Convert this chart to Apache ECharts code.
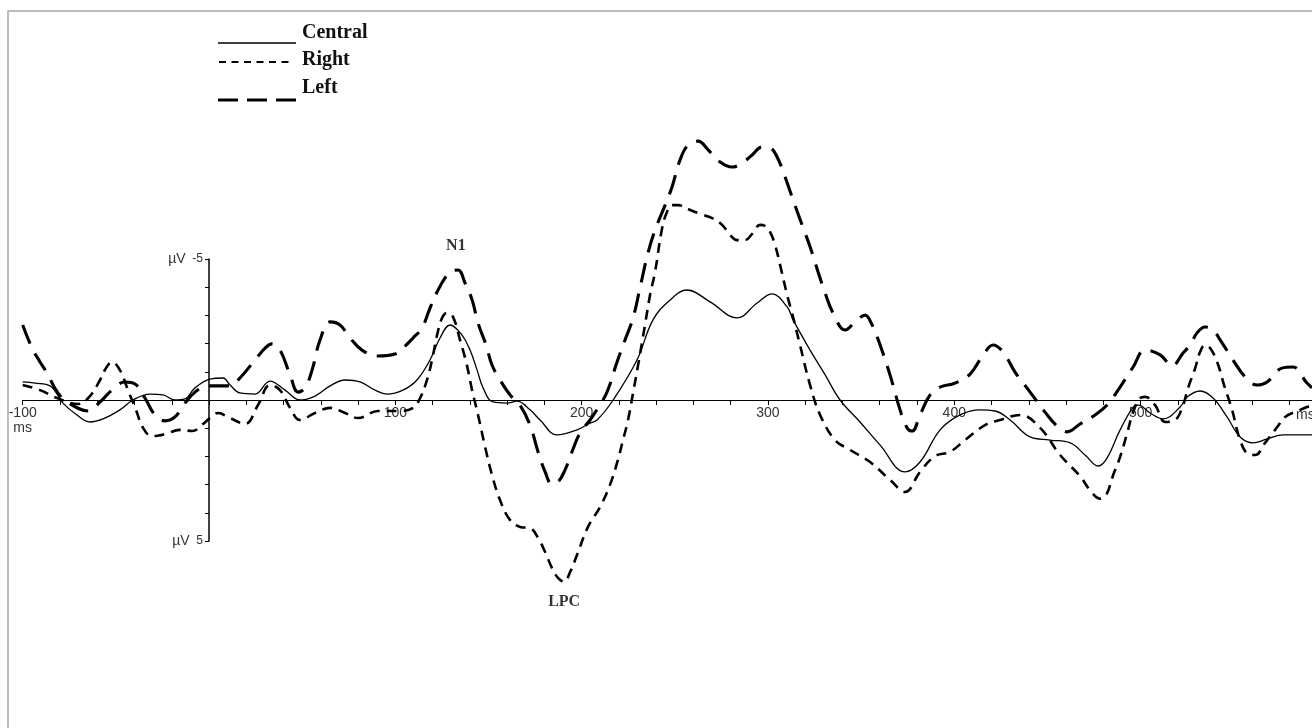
<!DOCTYPE html>
<html>
<head>
<meta charset="utf-8">
<title>ERP waveforms</title>
<script src="https://cdn.jsdelivr.net/npm/echarts@6/dist/echarts.min.js"></script>
<style>
  html, body { margin: 0; padding: 0; background: #ffffff; }
  #chart { width: 1312px; height: 728px; }
</style>
</head>
<body>
<div id="chart"></div>
<script>
// Grand-average ERP waveforms (time in ms, amplitude in µV, negative plotted up)
const seriesNames = ['Central', 'Right', 'Left'];

const central = [
  [-100, -0.64], [-93.4, -0.60], [-85.3, -0.50], [-78.4, 0.11], [-70.9, 0.53], [-63.9, 0.78],
  [-56.9, 0.67], [-47.8, 0.35], [-40.8, 0.0], [-31.7, -0.21], [-24.7, -0.18], [-18.3, 0.0],
  [-12.9, -0.04], [-7.5, -0.43], [0.5, -0.74], [7.5, -0.78], [11.3, -0.53], [16.6, -0.25],
  [24.7, -0.21], [32.7, -0.67], [40.8, -0.35], [48.8, 0.0], [56.9, -0.14], [65.0, -0.50],
  [73.0, -0.71], [81.1, -0.64], [89.1, -0.35], [95.5, -0.21], [104.1, -0.35], [111.6, -0.71],
  [118.6, -1.42], [124.0, -2.20], [129.4, -2.66], [135.8, -2.30], [140.1, -1.77], [143.9, -1.06],
  [147.1, -0.43], [152.4, 0.07], [160.0, 0.11], [165.3, 0.04], [172.3, 0.35], [177.7, 0.71],
  [186.8, 1.24], [197.5, 1.06], [204.5, 0.82], [208.3, 0.71], [216.9, 0.0], [229.7, -1.42],
  [238.3, -2.84], [247.5, -3.55], [256.6, -3.90], [268.9, -3.48], [283.4, -2.91], [294.2, -3.44],
  [302.2, -3.76], [310.3, -3.30], [313.5, -2.84], [322.6, -1.77], [330.7, -0.89], [338.7, 0.0],
  [349.4, 0.78], [360.2, 1.60], [373.6, 2.55], [381.6, 2.20], [392.4, 1.06], [403.1, 0.53],
  [413.8, 0.35], [421.9, 0.39], [430.0, 0.71], [440.7, 1.31], [451.4, 1.42], [462.2, 1.52],
  [470.2, 1.95], [477.2, 2.34], [482.0, 2.06], [489.0, 1.06], [496.0, 0.25], [498.7, 0.18],
  [505.1, 0.46], [512.1, 0.67], [521.2, 0.25], [525.0, -0.11], [532.0, -0.32], [538.9, -0.07],
  [546.4, 0.60], [553.4, 1.31], [560.4, 1.52], [567.9, 1.38], [576.5, 1.24], [592, 1.24]
];

const right = [
  [-100, -0.53], [-90.7, -0.35], [-81.6, -0.07], [-70.3, 0.14], [-63.9, -0.14], [-58.5, -0.71],
  [-55.3, -1.13], [-52.1, -1.35], [-47.8, -1.06], [-43.5, -0.35], [-39.2, 0.35], [-35.4, 0.99],
  [-30.6, 1.28], [-23.6, 1.21], [-15.6, 1.06], [-9.1, 1.10], [-3.2, 0.85], [0.5, 0.64],
  [4.8, 0.46], [11.3, 0.64], [19.3, 0.85], [26.3, 0.18], [32.7, -0.53], [38.1, -0.35],
  [43.5, 0.28], [48.8, 0.71], [56.9, 0.46], [65.0, 0.28], [73.0, 0.46], [80.0, 0.64],
  [90.7, 0.39], [102.5, 0.39], [109.5, 0.28], [113.3, -0.07], [117.0, -0.71], [119.7, -1.42],
  [122.4, -2.30], [125.1, -2.91], [127.8, -3.09], [131.0, -2.94], [134.7, -2.13], [138.0, -1.35],
  [141.2, -0.35], [144.4, 0.53], [148.2, 1.67], [151.9, 2.66], [156.2, 3.55], [161.6, 4.26],
  [167.0, 4.50], [172.3, 4.54], [176.6, 4.89], [180.4, 5.39], [184.1, 5.96], [187.3, 6.31],
  [190.6, 6.45], [193.8, 6.10], [197.5, 5.50], [203.4, 4.50], [209.9, 3.79], [215.2, 3.01],
  [219.0, 2.23], [222.2, 1.42], [224.9, 0.71], [227.6, -0.25], [230.3, -1.24], [234.0, -2.66],
  [236.7, -3.72], [239.4, -4.54], [243.2, -6.10], [245.8, -6.67], [248.5, -6.91], [251.7, -6.91],
  [258.2, -6.74], [263.6, -6.60], [270.0, -6.45], [275.4, -6.21], [279.7, -5.85], [283.4, -5.67],
  [287.7, -5.67], [291.5, -5.89], [295.8, -6.21], [298.4, -6.17], [301.1, -5.96], [303.8, -5.50],
  [306.5, -4.79], [310.3, -3.72], [312.9, -3.09], [317.2, -1.95], [322.6, -0.53], [328.0, 0.53],
  [336.0, 1.42], [344.1, 1.77], [354.8, 2.20], [365.6, 2.84], [373.6, 3.26], [381.6, 2.55],
  [389.7, 1.99], [397.7, 1.84], [405.8, 1.42], [416.5, 0.89], [424.6, 0.71], [435.3, 0.53],
  [446.1, 0.99], [456.8, 1.95], [467.5, 2.70], [472.9, 3.20], [478.3, 3.50], [481.5, 3.37],
  [485.3, 2.66], [489.0, 2.02], [492.8, 1.17], [496.0, 0.43], [499.8, -0.07], [502.4, -0.11],
  [507.8, 0.18], [513.2, 0.78], [518.5, 0.71],
  [522.3, 0.28], [525.5, -0.43], [529.3, -1.13], [531.9, -1.70], [534.6, -1.95], [537.3, -1.84],
  [541.1, -1.35], [544.8, -0.53], [549.1, 0.35], [553.4, 1.42], [557.7, 1.91], [561.5, 1.95],
  [566.8, 1.52], [573.3, 0.96], [577.6, 0.60], [585.6, 0.35], [592, 0.18]
];

const left = [
  [-100, -2.66], [-95.0, -1.84], [-90.7, -1.35], [-87.0, -0.96], [-81.1, -0.25], [-74.6, 0.14],
  [-64.9, 0.39], [-58.5, 0.07], [-52.1, -0.35], [-45.1, -0.64], [-39.7, -0.57], [-34.4, -0.07],
  [-29.0, 0.53], [-23.6, 0.74], [-18.3, 0.60], [-12.9, 0.11], [-7.5, -0.28], [-1.1, -0.50],
  [5.9, -0.50], [11.3, -0.50], [16.6, -0.78], [24.7, -1.42], [30.1, -1.84], [33.8, -1.99],
  [38.1, -1.77], [43.5, -0.89], [47.8, -0.28], [51.5, -0.43], [55.3, -1.06], [59.6, -2.13],
  [65.0, -2.77], [70.3, -2.66], [75.7, -2.20], [82.1, -1.77], [90.7, -1.56], [99.8, -1.63],
  [105.2, -1.91], [109.5, -2.20], [114.3, -2.55], [118.6, -3.26], [122.4, -3.83], [126.7, -4.33],
  [130.4, -4.57], [133.7, -4.61], [137.4, -4.15], [141.2, -3.55], [144.4, -2.73], [148.7, -1.95],
  [151.9, -1.24], [156.2, -0.71], [161.6, -0.18], [166.9, 0.18], [172.3, 0.89], [176.6, 1.84],
  [180.4, 2.55], [184.1, 2.98], [187.3, 2.91], [191.1, 2.48], [194.8, 1.84], [199.1, 1.17],
  [204.5, 0.71], [208.8, 0.28], [213.6, -0.28], [219.0, -1.35], [223.3, -2.13], [227.6, -2.91],
  [231.3, -3.97], [235.6, -5.21], [239.4, -6.03], [244.8, -6.91], [248.5, -7.55], [252.8, -8.51],
  [257.1, -9.04], [262.5, -9.18], [267.9, -8.87], [274.3, -8.44], [280.7, -8.26], [286.1, -8.40],
  [291.5, -8.69], [296.8, -8.97], [301.1, -8.94], [304.9, -8.62], [309.2, -7.91], [313.5, -7.09],
  [318.3, -6.21], [322.6, -5.43], [326.9, -4.54], [330.7, -3.79], [334.9, -3.09], [341.4, -2.48],
  [347.8, -2.84], [352.1, -3.01], [355.9, -2.66], [360.2, -1.95], [365.5, -0.89], [370.9, 0.35],
  [374.7, 0.99], [377.4, 1.10], [381.6, 0.53], [387.0, -0.18], [392.4, -0.46], [400.4, -0.60],
  [408.5, -0.92], [415.5, -1.60], [420.8, -1.95], [426.2, -1.70], [432.6, -0.99], [440.7, -0.28],
  [448.7, 0.43], [455.7, 0.96], [460.5, 1.13], [467.5, 0.85], [475.6, 0.53], [482.0, 0.18],
  [489.0, -0.46], [496.0, -1.17], [502.4, -1.77], [510.5, -1.60], [516.9, -1.21], [522.8, -1.67],
  [526.6, -1.95], [530.3, -2.38], [534.6, -2.59], [538.9, -2.48], [542.7, -2.13], [549.6, -1.42],
  [556.1, -0.82], [562.5, -0.53], [567.9, -0.64], [575.9, -1.13], [581.8, -1.17], [589.3, -0.60],
  [592, -0.43]
];

// Component labels: [name, time, amplitude]
const n1Peak = ['N1', 132.5, -4.61];
const lpcPeak = ['LPC', 190.6, 6.45];

// Axis extents and tick settings
const timeMin = -100, timeMax = 592, timeStep = 20;
const ampMin = -5, ampMax = 5, ampStep = 1;
const timeLabels = [-100, 100, 200, 300, 400, 500];

const serif = '"Liberation Serif", "Times New Roman", serif';
const sans = '"Liberation Sans Narrow", "Liberation Sans", Arial, sans-serif';

const chart = echarts.init(document.getElementById('chart'), null, { renderer: 'canvas' });

// Plot area: the amplitude range -5..5 µV spans this box; waveforms may run past it.
const plotGrid = { left: 22.7, right: 0, top: 259, bottom: 187, outerBoundsMode: 'none', containLabel: false };

function hiddenValueAxis(extra) {
  return Object.assign({
    type: 'value', show: false,
    axisLine: { show: false }, axisTick: { show: false }, axisLabel: { show: false }, splitLine: { show: false }
  }, extra);
}

function waveSeries(name, data, lineStyle, z) {
  return {
    name: name, type: 'line', data: data,
    xAxisIndex: 0, yAxisIndex: 0,
    showSymbol: false, smooth: 0.4, clip: false,
    lineStyle: lineStyle, z: z
  };
}

function componentSeries(entry, position, distance) {
  return {
    type: 'scatter', xAxisIndex: 0, yAxisIndex: 0, clip: false, silent: true,
    symbolSize: 1, itemStyle: { color: 'rgba(0,0,0,0)' },
    data: [[entry[1], entry[2]]],
    label: {
      show: true, formatter: entry[0], position: position, distance: distance,
      color: '#000', fontFamily: serif, fontWeight: 'bold', fontSize: 16
    },
    z: 4
  };
}

// First pass: waveforms on the plot scales.
chart.setOption({
  backgroundColor: '#ffffff',
  animation: false,
  grid: [plotGrid],
  xAxis: [hiddenValueAxis({ gridIndex: 0, min: timeMin, max: timeMax })],
  yAxis: [hiddenValueAxis({ gridIndex: 0, min: ampMin, max: ampMax, inverse: true })],
  series: [
    waveSeries(seriesNames[0], central, { color: '#000', width: 1.3 }, 3),
    waveSeries(seriesNames[1], right, { color: '#000', width: 2.6, type: [10, 7] }, 2),
    waveSeries(seriesNames[2], left, { color: '#000', width: 3.1, type: [20, 11] }, 2),
    componentSeries(n1Peak, 'top', 16),
    componentSeries(lpcPeak, 'bottom', 11)
  ]
});

// The time axis lies on 0 µV and the amplitude axis on 0 ms.
const origin = chart.convertToPixel({ gridIndex: 0 }, [0, 0]);
const ampTop = chart.convertToPixel({ gridIndex: 0 }, [0, ampMin])[1];
const ampBottom = chart.convertToPixel({ gridIndex: 0 }, [0, ampMax])[1];
const H = chart.getHeight();

chart.setOption({
  grid: [
    plotGrid,
    { left: plotGrid.left, right: plotGrid.right, top: 0, height: origin[1], outerBoundsMode: 'none', containLabel: false },
    { left: origin[0], width: 20, top: ampTop, height: ampBottom - ampTop, outerBoundsMode: 'none', containLabel: false }
  ],
  xAxis: [
    hiddenValueAxis({ gridIndex: 0, min: timeMin, max: timeMax }),
    {
      type: 'value', gridIndex: 1, position: 'bottom',
      min: timeMin, max: timeMax, interval: timeStep,
      name: 'ms', nameLocation: 'end', nameGap: -16,
      nameTextStyle: {
        color: '#333', fontFamily: sans, fontSize: 14,
        align: 'left', verticalAlign: 'top', padding: [8, 0, 0, 0]
      },
      axisLine: { show: true, onZero: false, lineStyle: { color: '#000', width: 1.2 } },
      axisTick: { show: true, length: 5, lineStyle: { color: '#000', width: 1 } },
      splitLine: { show: false },
      axisLabel: {
        margin: 6, color: '#333', fontFamily: sans, fontSize: 14, lineHeight: 15,
        showMaxLabel: false, showMinLabel: true,
        formatter: function (v) {
          if (timeLabels.indexOf(v) < 0) return '';
          return v === timeMin ? v + '\nms' : String(v);
        }
      }
    },
    hiddenValueAxis({ gridIndex: 2, min: 0, max: 1 })
  ],
  yAxis: [
    hiddenValueAxis({ gridIndex: 0, min: ampMin, max: ampMax, inverse: true }),
    hiddenValueAxis({ gridIndex: 1, min: 0, max: 1 }),
    {
      type: 'value', gridIndex: 2, position: 'left',
      min: ampMin, max: ampMax, interval: ampStep, inverse: true,
      axisLine: { show: true, onZero: false, lineStyle: { color: '#000', width: 1.5 } },
      axisTick: { show: true, length: 4, lineStyle: { color: '#000', width: 1 } },
      splitLine: { show: false },
      axisLabel: {
        margin: 6, showMinLabel: true, showMaxLabel: true,
        formatter: function (v) {
          if (v === ampMin || v === ampMax) return '{u|µV}  {n|' + v + '}';
          return '';
        },
        rich: {
          u: { color: '#333', fontFamily: sans, fontSize: 14 },
          n: { color: '#333', fontFamily: sans, fontSize: 12 }
        }
      }
    }
  ],
  graphic: [
    // outer frame
    {
      type: 'rect', silent: true, z: 0,
      shape: { x: 8, y: 11, width: 1400, height: H + 100 },
      style: { fill: 'none', stroke: '#a8a8a8', lineWidth: 1.5 }
    },
    // key: line samples and names
    {
      type: 'line', silent: true,
      shape: { x1: 218, y1: 43, x2: 296, y2: 43 },
      style: { stroke: '#000', lineWidth: 1.6 }
    },
    {
      type: 'line', silent: true,
      shape: { x1: 219, y1: 62, x2: 292, y2: 62 },
      style: { stroke: '#000', lineWidth: 2, lineDash: [7, 5.5] }
    },
    {
      type: 'line', silent: true,
      shape: { x1: 218, y1: 100, x2: 297, y2: 100 },
      style: { stroke: '#000', lineWidth: 3, lineDash: [20, 9] }
    },
    {
      type: 'text', silent: true,
      style: { x: 302, y: 33, text: seriesNames[0], fill: '#111', font: 'bold 20px ' + serif, textVerticalAlign: 'middle' }
    },
    {
      type: 'text', silent: true,
      style: { x: 302, y: 60, text: seriesNames[1], fill: '#111', font: 'bold 20px ' + serif, textVerticalAlign: 'middle' }
    },
    {
      type: 'text', silent: true,
      style: { x: 302, y: 88, text: seriesNames[2], fill: '#111', font: 'bold 20px ' + serif, textVerticalAlign: 'middle' }
    }
  ]
});
</script>
</body>
</html>
